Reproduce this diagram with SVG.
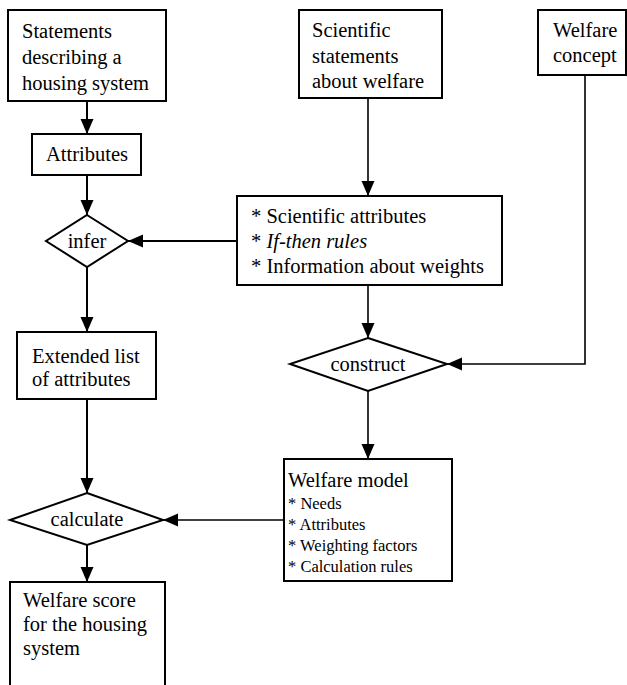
<svg xmlns="http://www.w3.org/2000/svg" width="627" height="685" viewBox="0 0 627 685" font-family="'Liberation Serif', 'DejaVu Serif', serif">
<style>
  .box { fill: #fff; stroke: #000; stroke-width: 2; }
  .dia { fill: #fff; stroke: #000; stroke-width: 2; stroke-linejoin: miter; }
  text { font-family: 'Liberation Serif', 'DejaVu Serif', serif; fill: #000; }
  .t { font-size: 20.5px; }
  .s { font-size: 16.5px; }
  .c { text-anchor: middle; }
  .edge { fill: none; stroke: #000; stroke-width: 2; marker-end: url(#arr); }
  .thin { stroke-width: 1.6; }
</style>
<defs>
  <marker id="arr" markerUnits="userSpaceOnUse" markerWidth="15" markerHeight="14" refX="15" refY="6.5" orient="auto">
    <path d="M0,0 L15,6.5 L0,13 Z" fill="#000"/>
  </marker>
</defs>
<rect width="627" height="685" fill="#fff"/>

<g id="connectors">
  <path class="edge" d="M87,101 L87,134"/>
  <path class="edge" d="M87,175 L87,215"/>
  <path class="edge" d="M237,241 L128,241"/>
  <path class="edge" d="M87,267 L87,332"/>
  <path class="edge" d="M87,399 L87,493"/>
  <path class="edge thin" d="M368,98 L368,196"/>
  <path class="edge thin" d="M368,285 L368,338"/>
  <path class="edge thin" d="M585,75 L585,364 L447,364"/>
  <path class="edge thin" d="M368,391 L368,459"/>
  <path class="edge thin" d="M284,520 L163,520"/>
  <path class="edge" d="M87,545 L87,582"/>
</g>

<g id="statements">
  <rect class="box" x="8" y="10" width="158" height="91"/>
  <text class="t" x="22" y="38">Statements</text>
  <text class="t" x="22" y="64">describing a</text>
  <text class="t" x="22" y="90">housing system</text>
</g>

<g id="attributes">
  <rect class="box" x="32" y="134" width="109" height="41"/>
  <text class="t c" x="87" y="161">Attributes</text>
</g>

<g id="infer">
  <polygon class="dia" points="87,215 128,241 87,267 46,241"/>
  <text class="t c" x="87" y="248">infer</text>
</g>

<g id="extended">
  <rect class="box" x="17" y="332" width="139" height="67"/>
  <text class="t" x="32" y="363">Extended list</text>
  <text class="t" x="32" y="386">of attributes</text>
</g>

<g id="calculate">
  <polygon class="dia" points="87,493 163,520 87,545 10,520"/>
  <text class="t c" x="87" y="526">calculate</text>
</g>

<g id="score">
  <rect class="box" x="10" y="582" width="155" height="120"/>
  <text class="t" x="23" y="607">Welfare score</text>
  <text class="t" x="23" y="631">for the housing</text>
  <text class="t" x="23" y="655">system</text>
</g>

<g id="scientific-statements">
  <rect class="box" x="299" y="10" width="143" height="88"/>
  <text class="t" x="312" y="37">Scientific</text>
  <text class="t" x="312" y="63">statements</text>
  <text class="t" x="312" y="88">about welfare</text>
</g>

<g id="welfare-concept">
  <rect class="box" x="538" y="10" width="88" height="65"/>
  <text class="t" x="553" y="37">Welfare</text>
  <text class="t" x="553" y="62">concept</text>
</g>

<g id="scientific-info">
  <rect class="box" x="237" y="196" width="265" height="89"/>
  <text class="t" x="251" y="223">* Scientific attributes</text>
  <text class="t" x="251" y="248">* <tspan font-style="italic">If-then rules</tspan></text>
  <text class="t" x="251" y="273">* Information about weights</text>
</g>

<g id="construct">
  <polygon class="dia" points="368,338 447,364 368,391 290,364"/>
  <text class="t c" x="368" y="371">construct</text>
</g>

<g id="welfare-model">
  <rect class="box" x="284" y="459" width="168" height="122"/>
  <text class="t" x="288" y="487">Welfare model</text>
  <text class="s" x="288" y="509">* Needs</text>
  <text class="s" x="288" y="530">* Attributes</text>
  <text class="s" x="288" y="551">* Weighting factors</text>
  <text class="s" x="288" y="572">* Calculation rules</text>
</g>
</svg>
